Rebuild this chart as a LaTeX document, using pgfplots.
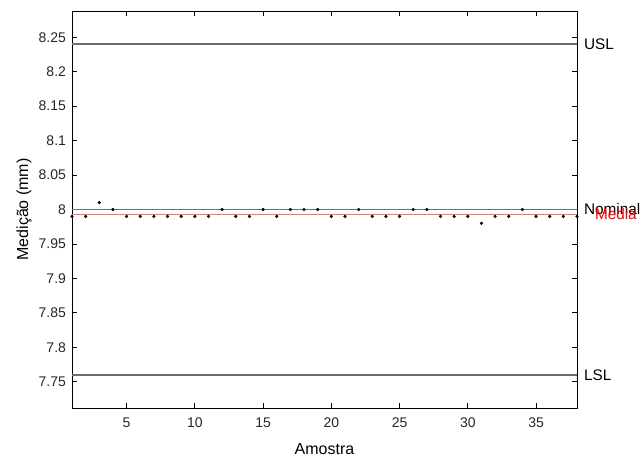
\documentclass[border=0pt]{standalone}
\usepackage{pgfplots}
\pgfplotsset{compat=1.18}
\usepackage{fontspec}
\setmainfont{Liberation Sans}
\definecolor{limgray}{RGB}{110,110,110}
\definecolor{meanred}{RGB}{255,110,110}
\begin{document}
\begin{tikzpicture}
\begin{axis}[
  at={(0,0)}, anchor=south west,
  scale only axis, width=378.75pt, height=297.75pt,
  xmin=1, xmax=38, ymin=7.712, ymax=8.288,
  xtick={5,10,...,35},
  ytick={7.75,7.8,7.85,7.9,7.95,8,8.05,8.1,8.15,8.2,8.25},
  /pgf/number format/assume math mode=true,
  tick label style={font=\fontsize{10.5}{12}\selectfont, black!85},
  xticklabel style={yshift=-4pt},
  yticklabel style={xshift=-1pt},
  major tick length=3.5pt,
  tick style={black, line width=0.6pt},
  axis line style={black, line width=0.6pt},
  xlabel={Amostra}, ylabel={Medição (mm)},
  every axis x label/.style={at={(axis description cs:0.5,-0.103)}, anchor=center, font=\fontsize{12}{14}\selectfont},
  every axis y label/.style={at={(axis description cs:-0.095,0.5)}, rotate=90, anchor=center, font=\fontsize{12}{14}\selectfont},
  clip=false,
]
\addplot[limgray, line width=0.9pt] coordinates {(1,8.24) (38,8.24)};
\addplot[limgray, line width=0.9pt] coordinates {(1,8.00) (38,8.00)};
\addplot[limgray, line width=0.9pt] coordinates {(1,7.76) (38,7.76)};
\addplot[meanred, line width=1pt] coordinates {(1,7.99289) (38,7.99289)};
\addplot[only marks, mark=*, mark size=1.0pt, black] coordinates {
(1,7.99) (2,7.99) (3,8.01) (4,8.00) (5,7.99) (6,7.99) (7,7.99) (8,7.99)
(9,7.99) (10,7.99) (11,7.99) (12,8.00) (13,7.99) (14,7.99) (15,8.00)
(16,7.99) (17,8.00) (18,8.00) (19,8.00) (20,7.99) (21,7.99) (22,8.00)
(23,7.99) (24,7.99) (25,7.99) (26,8.00) (27,8.00) (28,7.99) (29,7.99)
(30,7.99) (31,7.98) (32,7.99) (33,7.99) (34,8.00) (35,7.99) (36,7.99)
(37,7.99) (38,7.99)};
\node[anchor=west, inner sep=0pt, font=\fontsize{11.5}{13}\selectfont] at (axis cs:38.5,8.24) {USL};
\node[anchor=west, inner sep=0pt, font=\fontsize{11.5}{13}\selectfont] at (axis cs:38.5,8.00) {Nominal};
\node[anchor=west, inner sep=0pt, font=\fontsize{11.5}{13}\selectfont, red] at (axis cs:39.3,7.99289) {Media};
\node[anchor=west, inner sep=0pt, font=\fontsize{11.5}{13}\selectfont] at (axis cs:38.5,7.76) {LSL};
\end{axis}
\pgfresetboundingbox
\path (-54pt,-39.75pt) rectangle (428.25pt,306pt);
\end{tikzpicture}
\end{document}
